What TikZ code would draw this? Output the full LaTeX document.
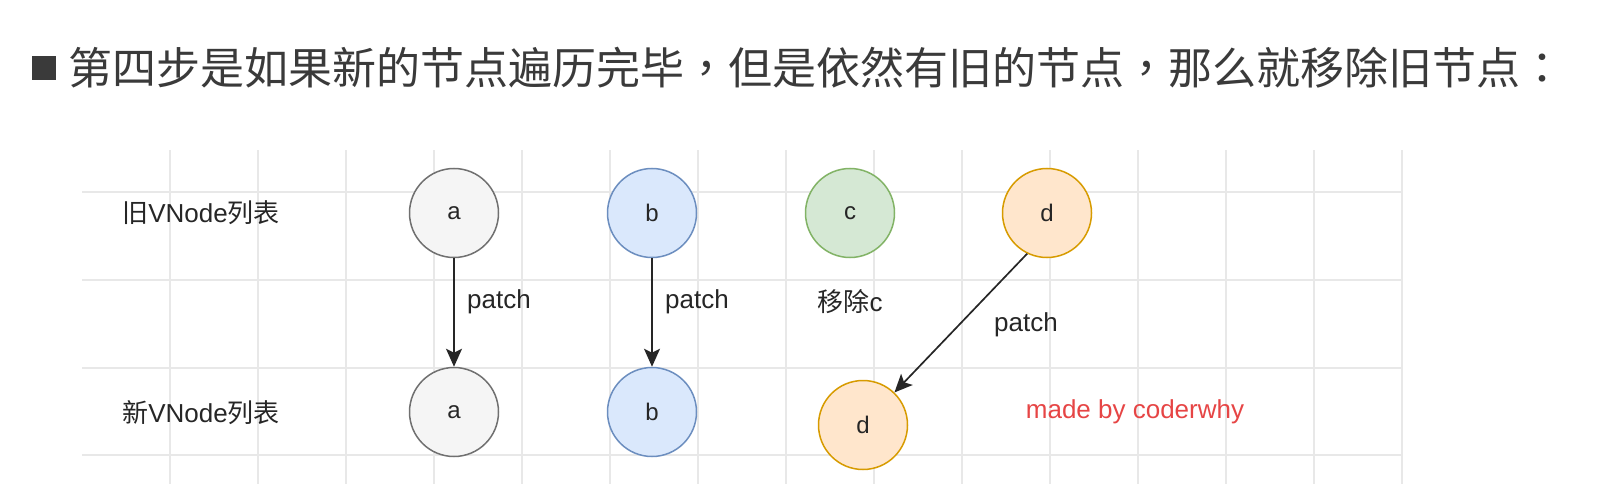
\documentclass[tikz,border=0pt]{standalone}
\usepackage{fontspec}
\setmainfont{Liberation Sans}
\newfontfamily\cjk{Noto Sans CJK SC}
\newfontfamily\cjkpunct{Noto Sans CJK TC}
\usetikzlibrary{positioning, arrows.meta}

\definecolor{gridgray}{HTML}{E8E8E8}
\definecolor{titlegray}{HTML}{3A3A3A}
\definecolor{greyfill}{HTML}{F5F5F5}
\definecolor{greyline}{HTML}{707070}
\definecolor{bluefill}{HTML}{DAE8FC}
\definecolor{blueline}{HTML}{6C8EBF}
\definecolor{greenfill}{HTML}{D5E8D4}
\definecolor{greenline}{HTML}{82B366}
\definecolor{orangefill}{HTML}{FFE6CC}
\definecolor{orangeline}{HTML}{D79B00}
\definecolor{signred}{HTML}{E64545}

\tikzset{
	gridline/.style={draw=gridgray, line width=1.1pt},
	vnode/.style={circle, line width=1.5pt, minimum size=89pt, inner sep=0pt, font=\fontsize{24}{28}\selectfont, text=black!85},
	grey vnode/.style={vnode, fill=greyfill, draw=greyline},
	blue vnode/.style={vnode, fill=bluefill, draw=blueline},
	green vnode/.style={vnode, fill=greenfill, draw=greenline},
	orange vnode/.style={vnode, fill=orangefill, draw=orangeline},
	label text/.style={inner sep=0pt, font=\fontsize{26}{30}\selectfont, text=black!85},
	patch arrow/.style={-{Stealth[length=18pt, width=16pt, inset=4pt]}, line width=1.7pt, draw=black!85},
}

\begin{document}
\begin{tikzpicture}[x=1pt, y=-1pt]
\useasboundingbox (0,0) rectangle (1606,484);
% grid
\foreach \k in {0, ..., 14}
	\draw[gridline] (170+88*\k, 150) -- (170+88*\k, 484);
\foreach \y in {192, 280, 368, 455}
	\draw[gridline] (82, \y) -- (1402, \y);
% heading
\fill[titlegray] (32,56) rectangle (56,80);
\node[anchor=west, inner sep=0pt, text=titlegray, font=\cjk\fontsize{44}{50}\selectfont] (title) at (68,68) {第四步是如果新的节点遍历完毕{\cjkpunct ，}但是依然有旧的节点{\cjkpunct ，}那么就移除旧节点{\cjkpunct ：}};
% lists
\node[label text] (old list) at (201,213) {{\cjk 旧}VNode{\cjk 列表}};
\node[label text] (new list) at (201,413) {{\cjk 新}VNode{\cjk 列表}};
\node[grey vnode] (old a) at (454,213) {a};
\node[blue vnode] (old b) at (652,213) {b};
\node[green vnode] (old c) at (850,213) {c};
\node[orange vnode] (old d) at (1047,213) {d};
\node[grey vnode] (new a) at (454,412) {a};
\node[blue vnode] (new b) at (652,412) {b};
\node[orange vnode] (new d) at (863,425) {d};
% patches
\draw[patch arrow] (old a) -- (new a);
\draw[patch arrow] (old b) -- (new b);
\draw[patch arrow] (old d.244) -- (new d.46);
\node[label text, anchor=west] (patch a) at (467,302) {patch};
\node[label text, anchor=west] (patch b) at (665,302) {patch};
\node[label text] (remove c) at (850,302) {{\cjk 移除}c};
\node[label text] (patch d) at (1026,325) {patch};
\node[label text, text=signred] (sign) at (1135,412) {made by coderwhy};
\end{tikzpicture}
\end{document}
